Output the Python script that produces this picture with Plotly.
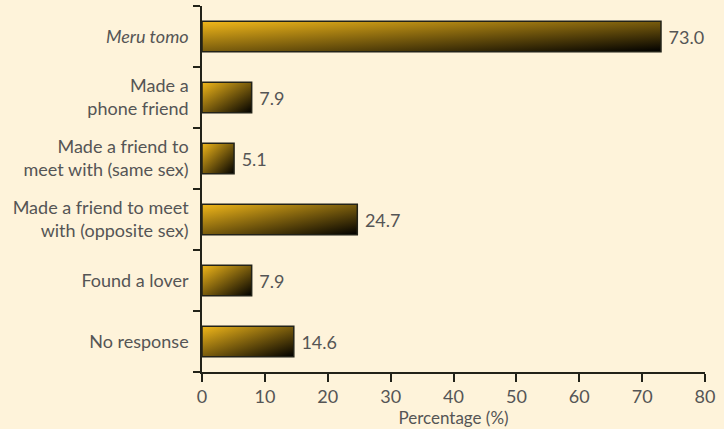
import base64

import plotly.graph_objects as go

# categories listed bottom -> top
categories = [
    "No response",
    "Found a lover",
    "Made a friend to meet<br>with (opposite sex)",
    "Made a friend to<br>meet with (same sex)",
    "Made a<br>phone friend",
    "<i>Meru tomo</i>",
]
percentages = [14.6, 7.9, 24.7, 5.1, 7.9, 73.0]
x_ticks = [0, 10, 20, 30, 40, 50, 60, 70, 80]

BG = "#fef3da"
TEXT = "#555555"
LINE = "#222218"
BAR_W = 0.5

svg = (
    '<svg xmlns="http://www.w3.org/2000/svg" width="100" height="100" '
    'viewBox="0 0 100 100" preserveAspectRatio="none">'
    '<defs><linearGradient id="g" x1="0" y1="0" x2="1" y2="1">'
    '<stop offset="0" stop-color="#f2b81a"/>'
    '<stop offset="1" stop-color="#000000"/>'
    "</linearGradient></defs>"
    '<rect width="100" height="100" fill="url(#g)"/></svg>'
)
grad_src = "data:image/svg+xml;base64," + base64.b64encode(svg.encode()).decode()

fig = go.Figure()
fig.add_trace(
    go.Bar(
        x=percentages,
        y=categories,
        orientation="h",
        width=BAR_W,
        marker={"color": "rgba(0,0,0,0)", "line": {"color": LINE, "width": 1.5}},
        text=["\u00a0" + f"{v:.1f}" for v in percentages],
        textposition="outside",
        textfont={"color": TEXT, "size": 18},
        cliponaxis=False,
        hoverinfo="x+y",
    )
)

# gradient fills, one stretched image per bar, placed on the data axes
images = []
for i, v in enumerate(percentages):
    images.append(
        dict(
            source=grad_src,
            xref="x",
            yref="y",
            x=0,
            y=i + BAR_W / 2,
            sizex=v,
            sizey=BAR_W,
            sizing="stretch",
            xanchor="left",
            yanchor="top",
            layer="below",
        )
    )

fig.update_layout(
    width=724,
    height=429,
    margin={"l": 202, "r": 19, "t": 6, "b": 57},
    paper_bgcolor=BG,
    plot_bgcolor=BG,
    font={"family": "Lato, sans-serif", "color": TEXT, "size": 16},
    showlegend=False,
    images=images,
    xaxis={
        "range": [0, 80],
        "tickvals": x_ticks,
        "ticks": "outside",
        "ticklen": 8,
        "tickwidth": 1.5,
        "tickcolor": LINE,
        "showline": True,
        "linecolor": LINE,
        "linewidth": 1.5,
        "showgrid": False,
        "zeroline": False,
        "automargin": False,
        "tickfont": {"size": 18},
        "title": {"text": "Percentage (%)", "font": {"size": 17}, "standoff": 2},
    },
    yaxis={
        "type": "category",
        "categoryorder": "array",
        "categoryarray": categories,
        "range": [-0.5, 5.5],
        "tickson": "boundaries",
        "ticks": "outside",
        "ticklen": 7,
        "tickwidth": 1.5,
        "tickcolor": LINE,
        "ticklabelstandoff": 8,
        "showline": True,
        "linecolor": LINE,
        "linewidth": 1.5,
        "showgrid": False,
        "zeroline": False,
        "automargin": False,
        "tickfont": {"size": 18},
    },
)

# drop the browser's default page margin so the figure sits at the window corner
fig.write_html(
    "out.html",
    config={"displayModeBar": False},
    post_script="document.body.style.margin='0';document.body.style.background='%s';" % BG,
)
